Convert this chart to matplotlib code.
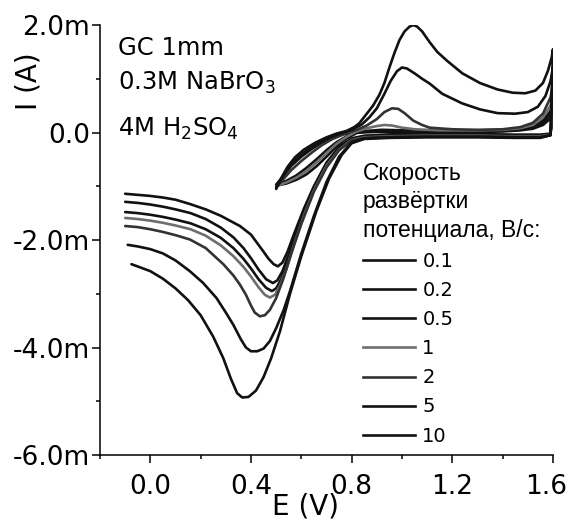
import numpy as np
import matplotlib
matplotlib.use("Agg")
import matplotlib.pyplot as plt
from matplotlib.ticker import FuncFormatter, MultipleLocator
from matplotlib.lines import Line2D
from matplotlib.transforms import ScaledTranslation
from matplotlib.font_manager import FontProperties

plt.rcParams['font.family'] = ['DejaVu Sans']
plt.rcParams['mathtext.fontset'] = 'dejavusans'

# ---- data (E in V, I in mA) ----
rates = ["0.1", "0.2", "0.5", "1", "2", "5", "10"]

# anodic branches (start at ~0.5 V, sweep to 1.6 V)
e_an_01 = [0.50,0.53,0.56,0.60,0.64,0.68,0.72,0.77,0.82,0.90,1.00,1.15,1.30,1.40,1.47,1.52,1.56,1.59,1.60]
i_an_01 = [-0.97,-0.80,-0.62,-0.45,-0.31,-0.19,-0.10,-0.03,0.00,0.01,0.01,0.01,0.01,0.02,0.04,0.07,0.14,0.26,0.35]
e_an_02 = [0.50,0.54,0.58,0.62,0.66,0.70,0.74,0.78,0.82,0.88,1.00,1.15,1.30,1.40,1.47,1.52,1.56,1.59,1.60]
i_an_02 = [-0.98,-0.90,-0.80,-0.66,-0.50,-0.33,-0.18,-0.07,0.00,0.02,0.02,0.02,0.02,0.03,0.05,0.09,0.18,0.33,0.45]
e_an_05 = [0.50,0.54,0.58,0.62,0.66,0.70,0.74,0.78,0.82,0.86,0.92,1.00,1.15,1.30,1.40,1.47,1.52,1.56,1.59,1.60]
i_an_05 = [-0.99,-0.95,-0.88,-0.78,-0.63,-0.45,-0.26,-0.11,-0.01,0.03,0.05,0.04,0.03,0.03,0.04,0.06,0.11,0.22,0.40,0.55]
e_an_1 = [0.50,0.54,0.58,0.62,0.66,0.70,0.74,0.78,0.82,0.86,0.90,0.93,0.96,1.00,1.05,1.15,1.30,1.40,1.47,1.52,1.56,1.59,1.60]
i_an_1 = [-1.00,-0.93,-0.84,-0.72,-0.56,-0.38,-0.21,-0.08,0.02,0.08,0.12,0.14,0.13,0.09,0.06,0.04,0.04,0.05,0.08,0.14,0.28,0.50,0.70]
e_an_2 = [0.50,0.53,0.56,0.60,0.64,0.68,0.72,0.77,0.82,0.86,0.90,0.93,0.96,0.985,1.01,1.045,1.08,1.11,1.20,1.30,1.40,1.47,1.52,1.56,1.59,1.60]
i_an_2 = [-1.02,-0.86,-0.70,-0.53,-0.38,-0.24,-0.13,-0.03,0.05,0.13,0.25,0.38,0.45,0.44,0.36,0.22,0.14,0.09,0.06,0.05,0.06,0.10,0.18,0.35,0.65,0.90]
e_an_5 = [0.50,0.525,0.55,0.58,0.62,0.66,0.70,0.75,0.80,0.84,0.87,0.90,0.93,0.955,0.98,1.00,1.02,1.05,1.08,1.11,1.16,1.24,1.31,1.38,1.45,1.50,1.54,1.57,1.59,1.60]
i_an_5 = [-1.03,-0.83,-0.65,-0.49,-0.34,-0.22,-0.12,-0.03,0.05,0.15,0.28,0.45,0.72,0.96,1.14,1.21,1.19,1.10,1.00,0.91,0.72,0.54,0.43,0.36,0.35,0.38,0.48,0.68,0.95,1.22]
e_an_10 = [0.50,0.52,0.545,0.575,0.61,0.655,0.70,0.74,0.78,0.81,0.83,0.86,0.885,0.91,0.93,0.95,0.97,0.99,1.01,1.03,1.045,1.06,1.08,1.11,1.14,1.18,1.24,1.31,1.38,1.44,1.49,1.53,1.56,1.58,1.595,1.60]
i_an_10 = [-1.05,-0.85,-0.64,-0.46,-0.32,-0.19,-0.09,-0.02,0.03,0.10,0.17,0.35,0.50,0.70,0.92,1.21,1.48,1.72,1.88,1.97,2.00,1.97,1.88,1.68,1.50,1.33,1.10,0.92,0.80,0.74,0.73,0.78,0.92,1.15,1.40,1.55]

# cathodic branches (listed by increasing E; swept from 1.6 V down to -0.1 V)
e_cat_01 = [-0.10,-0.05,0.0,0.05,0.10,0.157,0.22,0.28,0.356,0.40,0.447,0.47,0.49,0.507,0.525,0.545,0.57,0.61,0.65,0.70,0.75,0.80,0.85,0.95,1.10,1.30,1.45,1.55,1.59]
i_cat_01 = [-1.14,-1.16,-1.18,-1.21,-1.25,-1.33,-1.43,-1.55,-1.74,-1.90,-2.20,-2.35,-2.45,-2.49,-2.42,-2.22,-1.90,-1.42,-1.00,-0.56,-0.27,-0.11,-0.06,-0.04,-0.03,-0.03,-0.04,-0.04,-0.02]
e_cat_02 = [-0.10,-0.05,0.0,0.05,0.10,0.16,0.22,0.28,0.33,0.37,0.40,0.43,0.46,0.487,0.505,0.525,0.55,0.575,0.61,0.65,0.70,0.75,0.80,0.85,0.95,1.10,1.30,1.45,1.55,1.59]
i_cat_02 = [-1.29,-1.31,-1.34,-1.38,-1.43,-1.50,-1.61,-1.77,-1.95,-2.15,-2.34,-2.55,-2.73,-2.80,-2.75,-2.58,-2.27,-1.92,-1.45,-1.02,-0.58,-0.28,-0.12,-0.07,-0.05,-0.04,-0.04,-0.05,-0.05,-0.03]
e_cat_05 = [-0.10,-0.05,0.0,0.05,0.10,0.16,0.22,0.28,0.33,0.37,0.40,0.43,0.46,0.483,0.50,0.52,0.545,0.57,0.61,0.65,0.70,0.75,0.80,0.85,0.95,1.10,1.30,1.45,1.55,1.59]
i_cat_05 = [-1.48,-1.50,-1.53,-1.57,-1.62,-1.69,-1.80,-1.96,-2.15,-2.35,-2.53,-2.73,-2.89,-2.95,-2.90,-2.73,-2.42,-2.05,-1.50,-1.05,-0.60,-0.30,-0.13,-0.08,-0.06,-0.05,-0.05,-0.06,-0.06,-0.03]
e_cat_1 = [-0.10,-0.05,0.0,0.05,0.10,0.16,0.22,0.28,0.33,0.37,0.40,0.43,0.455,0.475,0.495,0.515,0.54,0.57,0.61,0.65,0.70,0.75,0.80,0.85,0.95,1.10,1.30,1.45,1.55,1.59]
i_cat_1 = [-1.59,-1.61,-1.64,-1.68,-1.73,-1.80,-1.92,-2.10,-2.30,-2.50,-2.68,-2.88,-3.02,-3.07,-3.02,-2.85,-2.55,-2.10,-1.55,-1.08,-0.62,-0.32,-0.14,-0.09,-0.07,-0.06,-0.06,-0.07,-0.07,-0.04]
e_cat_2 = [-0.10,-0.05,0.0,0.05,0.10,0.157,0.22,0.29,0.33,0.356,0.38,0.40,0.415,0.435,0.455,0.475,0.50,0.53,0.56,0.60,0.65,0.70,0.75,0.80,0.85,0.95,1.10,1.30,1.45,1.55,1.59]
i_cat_2 = [-1.74,-1.76,-1.80,-1.85,-1.91,-1.99,-2.15,-2.45,-2.66,-2.83,-3.02,-3.22,-3.35,-3.42,-3.40,-3.30,-3.08,-2.70,-2.25,-1.70,-1.10,-0.65,-0.33,-0.15,-0.10,-0.08,-0.07,-0.07,-0.08,-0.08,-0.05]
e_cat_5 = [-0.09,-0.05,0.0,0.05,0.10,0.157,0.21,0.263,0.30,0.33,0.36,0.38,0.40,0.425,0.45,0.475,0.50,0.53,0.555,0.60,0.65,0.70,0.75,0.80,0.85,0.95,1.10,1.30,1.45,1.55,1.59]
i_cat_5 = [-2.09,-2.12,-2.17,-2.25,-2.38,-2.58,-2.80,-3.08,-3.35,-3.58,-3.85,-4.00,-4.07,-4.07,-4.02,-3.88,-3.64,-3.30,-2.95,-2.25,-1.55,-0.92,-0.45,-0.18,-0.11,-0.09,-0.08,-0.08,-0.09,-0.09,-0.05]
e_cat_10 = [-0.075,-0.04,0.0,0.05,0.10,0.15,0.20,0.25,0.29,0.32,0.345,0.365,0.39,0.42,0.45,0.48,0.515,0.555,0.60,0.66,0.71,0.76,0.80,0.85,0.95,1.10,1.30,1.45,1.55,1.59]
i_cat_10 = [-2.45,-2.51,-2.58,-2.72,-2.90,-3.12,-3.40,-3.80,-4.20,-4.58,-4.85,-4.93,-4.92,-4.80,-4.55,-4.20,-3.70,-3.00,-2.30,-1.46,-0.86,-0.42,-0.20,-0.12,-0.10,-0.09,-0.09,-0.10,-0.10,-0.05]

colors = ["#111111", "#111111", "#111111", "#6e6e6e", "#333333", "#111111", "#111111"]

series = [
    (e_an_01, i_an_01, e_cat_01, i_cat_01),
    (e_an_02, i_an_02, e_cat_02, i_cat_02),
    (e_an_05, i_an_05, e_cat_05, i_cat_05),
    (e_an_1, i_an_1, e_cat_1, i_cat_1),
    (e_an_2, i_an_2, e_cat_2, i_cat_2),
    (e_an_5, i_an_5, e_cat_5, i_cat_5),
    (e_an_10, i_an_10, e_cat_10, i_cat_10),
]

W, H = 569, 522
fig = plt.figure(figsize=(W / 100, H / 100), dpi=100)
ax = fig.add_axes([100 / W, 1 - 455 / H, 453 / W, 430 / H])

handles = []
for (ea, ia, ec, ic), col in zip(series, colors):
    E = np.concatenate([ea, ec[::-1]])
    I = np.concatenate([ia, ic[::-1]])
    ax.plot(E, I, color=col, lw=1.9, solid_joinstyle='round', solid_capstyle='round')
    handles.append(Line2D([], [], color=col, lw=1.9))

ax.set_xlim(-0.2, 1.6)
ax.set_ylim(-6.0, 2.0)
for s in ['top', 'right']:
    ax.spines[s].set_visible(False)
for s in ['left', 'bottom']:
    ax.spines[s].set_linewidth(1.1)

ax.set_xticks([0.0, 0.4, 0.8, 1.2, 1.6])
ax.xaxis.set_minor_locator(MultipleLocator(0.2))
ax.set_yticks([-6.0, -4.0, -2.0, 0.0, 2.0])
ax.yaxis.set_minor_locator(MultipleLocator(1.0))
ax.xaxis.set_major_formatter(FuncFormatter(lambda v, p: f"{v:.1f}"))
ax.yaxis.set_major_formatter(FuncFormatter(lambda v, p: "0.0" if abs(v) < 1e-9 else f"{v:.1f}m"))
ax.tick_params(axis='both', which='major', direction='out', length=6, width=1.1, labelsize=19)
ax.tick_params(axis='both', which='minor', direction='out', length=3, width=1.1)
ax.tick_params(axis='x', which='major', pad=8)
ax.tick_params(axis='y', which='major', pad=1)

# last x tick label nudged left so it stays inside the canvas
lbl = ax.xaxis.get_major_ticks()[-1].label1
lbl.set_transform(lbl.get_transform() + ScaledTranslation(-0.07, 0, fig.dpi_scale_trans))

ax.set_xlabel("E (V)", fontsize=20)
ax.xaxis.set_label_coords(0.453, (455 - 515) / 430)
ax.xaxis.label.set_va('baseline')
ax.set_ylabel("I (A)", fontsize=20)
ax.yaxis.set_label_coords(-0.128, 0.87)

# annotations
tk = dict(transform=ax.transAxes, fontsize=17.5, va='baseline', ha='left')
ax.text(0.04, (455 - 55) / 430, "GC 1mm", **tk)
ax.text(0.04, (455 - 90) / 430, "0.3M NaBrO$_3$", **tk)
ax.text(0.04, (455 - 136) / 430, "4M H$_2$SO$_4$", **tk)

leg = ax.legend(handles, rates, title="Скорость\nразвёртки\nпотенциала, В/с:",
                loc='upper left', bbox_to_anchor=(363 / W, 1 - 162 / H),
                bbox_transform=fig.transFigure, frameon=False,
                prop=FontProperties(family='DejaVu Sans', size=14),
                title_fontproperties=FontProperties(family='Liberation Sans', size=16.5),
                alignment='left', borderpad=0, borderaxespad=0,
                handlelength=2.7, handletextpad=0.35, labelspacing=0.52)
leg.get_title().set_linespacing(1.3)

fig.savefig("out.png", dpi=100)
